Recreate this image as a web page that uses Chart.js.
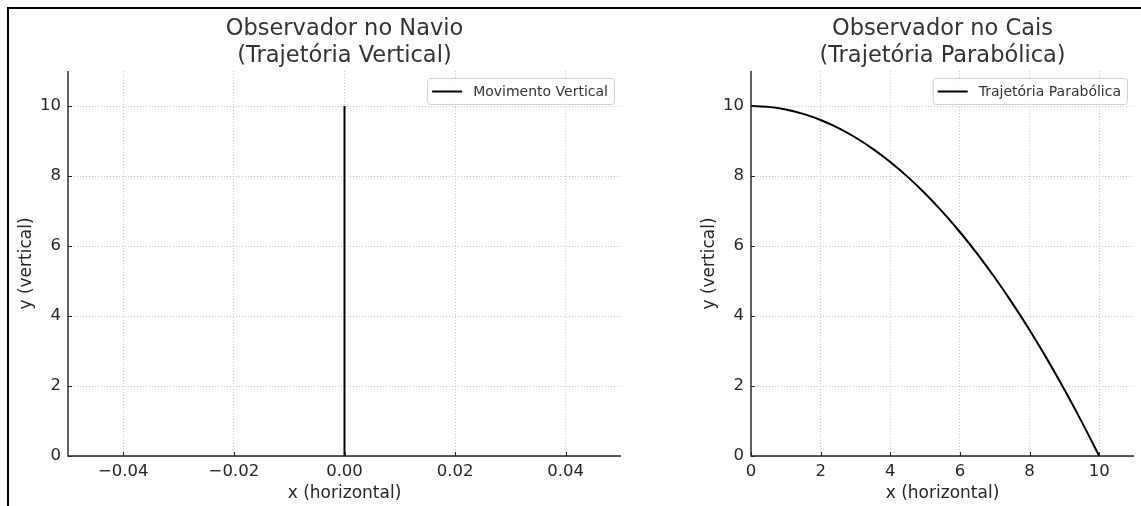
<!DOCTYPE html>
<html lang="pt">
<head>
  <meta charset="UTF-8">
  <title>Observador no Navio / no Cais</title>
  <style>
    * { margin: 0; padding: 0; box-sizing: border-box; }
    body { width: 1141px; height: 506px; background: #fff; position: relative; overflow: hidden; font-family: 'DejaVu Sans', sans-serif; }
    .frame { position: absolute; left: 7px; top: 7px; right: -10px; bottom: -10px; border-top: 2px solid #000; border-left: 2px solid #000; }
    canvas { position: absolute; top: 0; }
    #navio { left: 0; }
    #cais { left: 683px; }
  </style>
</head>
<body>
  <div class="frame"></div>
  <canvas id="navio" width="640" height="506"></canvas>
  <canvas id="cais" width="458" height="506"></canvas>

  <script src="https://cdn.jsdelivr.net/npm/chart.js"></script>
  <script>
    // vertical drop seen from the ship
    const navioX = [0, 0];
    const navioY = [0, 10];
    // parabola seen from the quay
    const caisX = [0, 0.5, 1, 1.5, 2, 2.5, 3, 3.5, 4, 4.5, 5, 5.5, 6, 6.5, 7, 7.5, 8, 8.5, 9, 9.5, 10];
    const caisY = [10, 9.975, 9.9, 9.775, 9.6, 9.375, 9.1, 8.775, 8.4, 7.975, 7.5, 6.975, 6.4, 5.775, 5.1, 4.375, 3.6, 2.775, 1.9, 0.975, 0];

    const navioXTicks = [-0.04, -0.02, 0, 0.02, 0.04];
    const caisXTicks = [0, 2, 4, 6, 8, 10];
    const yTicks = [0, 2, 4, 6, 8, 10];

    const FONT = 'DejaVu Sans';
    const TEXT = '#262626';

    const titlePlugin = {
      id: 'twoLineTitle',
      afterDraw(chart, args, opts) {
        const { ctx, chartArea } = chart;
        const cx = (chartArea.left + chartArea.right) / 2;
        ctx.save();
        ctx.font = '22.5px ' + FONT;
        ctx.fillStyle = '#333';
        ctx.textAlign = 'center';
        ctx.textBaseline = 'middle';
        opts.lines.forEach((t, i) => ctx.fillText(t, cx, 29 + i * 27));
        ctx.restore();
      }
    };

    const boxLegend = {
      id: 'boxLegend',
      afterDraw(chart) {
        const { ctx, chartArea } = chart;
        const label = chart.data.datasets[0].label;
        ctx.save();
        ctx.font = '14px ' + FONT;
        const tw = ctx.measureText(label).width;
        const w = 5 + 30 + 11 + tw + 6, h = 26;
        const x = chartArea.right - 7 - w, y = chartArea.top + 7;
        ctx.beginPath();
        ctx.roundRect(x + 0.5, y + 0.5, w, h, 3);
        ctx.fillStyle = 'rgba(255,255,255,0.9)';
        ctx.fill();
        ctx.strokeStyle = '#d0d0d0';
        ctx.lineWidth = 1;
        ctx.stroke();
        ctx.beginPath();
        ctx.moveTo(x + 5, y + h / 2 + 0.5);
        ctx.lineTo(x + 35, y + h / 2 + 0.5);
        ctx.strokeStyle = '#000';
        ctx.lineWidth = 2;
        ctx.stroke();
        ctx.fillStyle = '#333';
        ctx.textBaseline = 'middle';
        ctx.fillText(label, x + 46, y + h / 2 + 1);
        ctx.restore();
      }
    };

    // left/bottom spines plus matplotlib style ticks pointing into the axes
    const spines = {
      id: 'spines',
      afterDatasetsDraw(chart) {
        const { ctx, chartArea, scales } = chart;
        ctx.save();
        ctx.strokeStyle = '#222';
        ctx.lineWidth = 1;
        ctx.beginPath();
        scales.x.ticks.forEach(t => {
          const px = Math.round(scales.x.getPixelForValue(t.value)) + 0.5;
          ctx.moveTo(px, chartArea.bottom);
          ctx.lineTo(px, chartArea.bottom - 4);
        });
        scales.y.ticks.forEach(t => {
          const py = Math.round(scales.y.getPixelForValue(t.value)) + 0.5;
          ctx.moveTo(chartArea.left, py);
          ctx.lineTo(chartArea.left + 4, py);
        });
        ctx.stroke();
        ctx.lineWidth = 1.4;
        ctx.beginPath();
        ctx.moveTo(chartArea.left, chartArea.top);
        ctx.lineTo(chartArea.left, chartArea.bottom);
        ctx.lineTo(chartArea.right, chartArea.bottom);
        ctx.stroke();
        ctx.restore();
      }
    };

    function makeChart(id, xs, ys, label, xMin, xMax, xTicks, xFmt, titleLines, padRight) {
      const points = xs.map((x, i) => ({ x: x, y: ys[i] }));
      return new Chart(document.getElementById(id), {
        type: 'line',
        data: {
          datasets: [{
            label: label,
            data: points,
            borderColor: '#000',
            borderWidth: 2,
            pointRadius: 0,
            cubicInterpolationMode: 'monotone',
            fill: false
          }]
        },
        options: {
          responsive: false,
          animation: false,
          devicePixelRatio: 1,
          layout: { padding: { top: 71, right: padRight, bottom: 0, left: 0 } },
          plugins: {
            legend: { display: false },
            tooltip: { enabled: false },
            twoLineTitle: { lines: titleLines }
          },
          scales: {
            x: {
              type: 'linear',
              min: xMin,
              max: xMax,
              afterBuildTicks: s => { s.ticks = xTicks.map(v => ({ value: v })); },
              afterFit: s => { s.height = 50; },
              grid: { color: '#b8b8b8', lineWidth: 0.8, drawTicks: false },
              border: { display: false, dash: [1, 2] },
              ticks: { color: TEXT, font: { family: FONT, size: 16.5 }, padding: 6, maxRotation: 0, callback: xFmt },
              title: { display: true, text: 'x (horizontal)', color: TEXT, font: { family: FONT, size: 17 }, padding: { top: 0, bottom: 2 } }
            },
            y: {
              type: 'linear',
              min: 0,
              max: 11,
              afterBuildTicks: s => { s.ticks = yTicks.map(v => ({ value: v })); },
              afterFit: s => { s.width = 68; },
              grid: { color: '#b8b8b8', lineWidth: 0.8, drawTicks: false },
              border: { display: false, dash: [1, 2] },
              ticks: { color: TEXT, font: { family: FONT, size: 16.5 }, padding: 7, callback: v => String(v) },
              title: { display: true, text: 'y (vertical)', color: TEXT, font: { family: FONT, size: 17 }, padding: { top: 16.8, bottom: 0 } }
            }
          }
        },
        plugins: [titlePlugin, boxLegend, spines]
      });
    }

    makeChart('navio', navioX, navioY, 'Movimento Vertical', -0.05, 0.05, navioXTicks,
      v => (v < 0 ? '\u2212' : '') + Math.abs(v).toFixed(2),
      ['Observador no Navio', '(Trajetória Vertical)'], 19);

    makeChart('cais', caisX, caisY, 'Trajetória Parabólica', 0, 11, caisXTicks,
      v => String(v),
      ['Observador no Cais', '(Trajetória Parabólica)'], 7);
  </script>
</body>
</html>
